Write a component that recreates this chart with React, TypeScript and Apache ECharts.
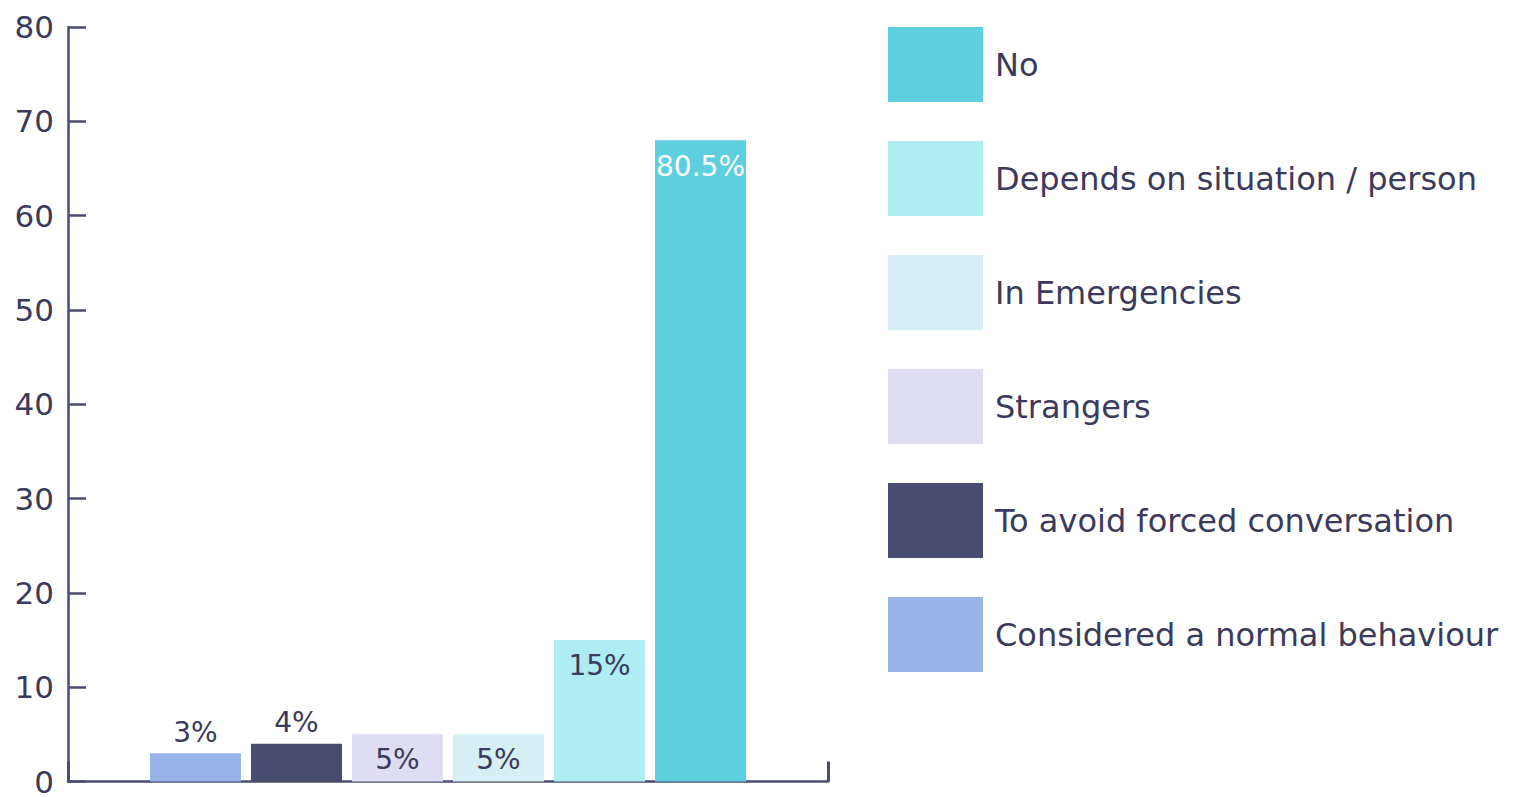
import React, { useEffect, useRef } from "react";
import * as echarts from "echarts";

const seriesNames = [
  "Considered a normal behaviour",
  "To avoid forced conversation",
  "Strangers",
  "In Emergencies",
  "Depends on situation / person",
  "No",
];
const seriesValues = [3, 4, 5, 5, 15, 68];
const seriesLabels = ["3%", "4%", "5%", "5%", "15%", "80.5%"];
const seriesColors = ["#97B3E8", "#4A4B70", "#DEDDF3", "#D6EFF5", "#AEEDF2", "#5ECFDF"];
const labelPositions = ["top", "top", "insideTop", "insideTop", "insideTop", "insideTop"];
const labelColors = ["#3B3A5C", "#3B3A5C", "#3B3A5C", "#3B3A5C", "#3B3A5C", "#FFFFFF"];
const legendOrder = [
  "No",
  "Depends on situation / person",
  "In Emergencies",
  "Strangers",
  "To avoid forced conversation",
  "Considered a normal behaviour",
];
const yTicks = { min: 0, max: 80, interval: 10 };

const FONT = "DejaVu Sans";
const TEXT = "#3B3A5C";
const AXIS = "#4B4C6E";

export default function App() {
  const ref = useRef<HTMLDivElement>(null);
  useEffect(() => {
    if (!ref.current) return;
    const chart = echarts.init(ref.current, undefined, { renderer: "svg" });
    chart.setOption({
      animation: false,
      textStyle: { fontFamily: FONT },
      grid: { left: 68, right: 688, top: 27, bottom: 13, containLabel: false },
      legend: {
        data: legendOrder,
        orient: "vertical",
        left: 888,
        top: 27,
        padding: 0,
        icon: "rect",
        itemWidth: 95,
        itemHeight: 75,
        itemGap: 39,
        textStyle: { fontFamily: FONT, fontSize: 32, color: TEXT, padding: [0, 0, 0, 7] },
        selectedMode: false,
      },
      xAxis: {
        type: "category",
        data: [""],
        axisLine: { show: true, lineStyle: { color: AXIS, width: 2.5 } },
        axisTick: { show: true, inside: true, length: 20, lineStyle: { color: AXIS, width: 3 } },
        axisLabel: { show: false },
      },
      yAxis: {
        type: "value",
        min: yTicks.min,
        max: yTicks.max,
        interval: yTicks.interval,
        axisLine: { show: true, lineStyle: { color: AXIS, width: 2.5 } },
        axisTick: { show: true, inside: true, length: 18, lineStyle: { color: AXIS, width: 2.5 } },
        splitLine: { show: false },
        axisLabel: { fontFamily: FONT, fontSize: 31, color: TEXT, margin: 14 },
      },
      series: seriesNames.map((name, i) => ({
        name,
        type: "bar",
        data: [seriesValues[i]],
        barWidth: 91,
        barGap: "11%",
        itemStyle: { color: seriesColors[i] },
        label: {
          show: true,
          position: labelPositions[i],
          distance: i < 2 ? 7 : i === 5 ? 12 : 11,
          formatter: () => seriesLabels[i],
          fontFamily: FONT,
          fontSize: 28,
          color: labelColors[i],
        },
      })),
    });
    return () => chart.dispose();
  }, []);
  return (
    <div
      ref={ref}
      style={{ position: "fixed", left: 0, top: 0, width: 1516, height: 797, background: "#fff" }}
    />
  );
}
